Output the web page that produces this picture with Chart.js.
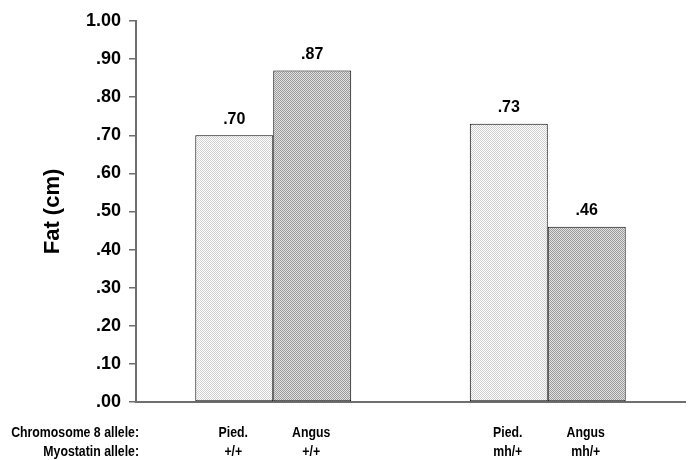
<!DOCTYPE html>
<html>
<head>
<meta charset="utf-8">
<script src="https://cdn.jsdelivr.net/npm/chart.js@4.4.1/dist/chart.umd.min.js"></script>
<style>
    body { margin: 0; background: #fff; }
</style>
</head>
<body>
<canvas id="fatChart" width="689" height="460"></canvas>
<script>
// data
const myostatinAlleles = ['+/+', 'mh/+'];
const chromosomeAlleles = ['Pied.', 'Angus'];
const piedFat = [0.70, 0.73];
const angusFat = [0.87, 0.46];
const rowTitles = ['Chromosome 8 allele:', 'Myostatin allele:'];

const mainFont = "'Liberation Sans', Arial, sans-serif";

// stipple fills like the scanned figure
function makeStipple(dark, light) {
    const c = document.createElement('canvas');
    c.width = 2;
    c.height = 2;
    const g = c.getContext('2d');
    g.fillStyle = light;
    g.fillRect(0, 0, 2, 2);
    g.fillStyle = dark;
    g.fillRect(0, 0, 1, 1);
    g.fillRect(1, 1, 1, 1);
    return g.createPattern(c, 'repeat');
}

const piedFill = makeStipple('#d2d2d2', '#ffffff');
const angusFill = makeStipple('#9a9a9a', '#e2e2e2');

function tickText(v) {
    const s = v.toFixed(2);
    return v < 1 ? s.replace(/^0/, '') : s;
}

// condensed bold text, the figure uses a narrow face
function narrowText(ctx, text, x, y) {
    ctx.save();
    ctx.translate(x, y);
    ctx.scale(0.82, 1);
    ctx.fillText(text, 0, 0);
    ctx.restore();
}

// value on top of each bar, two label rows under the axis
const barLabels = {
    id: 'barLabels',
    afterDatasetsDraw(chart) {
        const ctx = chart.ctx;
        const area = chart.chartArea;
        ctx.save();
        ctx.fillStyle = '#000';
        ctx.textAlign = 'center';
        chart.data.datasets.forEach((ds, i) => {
            const meta = chart.getDatasetMeta(i);
            meta.data.forEach((bar, j) => {
                ctx.font = 'bold 16px ' + mainFont;
                ctx.textBaseline = 'bottom';
                ctx.fillText(tickText(ds.data[j]), bar.x, bar.y - 8);
                ctx.font = 'bold 15px ' + mainFont;
                ctx.textBaseline = 'middle';
                narrowText(ctx, ds.label, bar.x - 1, area.bottom + 31);
                narrowText(ctx, chart.data.labels[j], bar.x - 1, area.bottom + 50);
            });
        });
        ctx.font = 'bold 15px ' + mainFont;
        ctx.textAlign = 'right';
        ctx.textBaseline = 'middle';
        narrowText(ctx, rowTitles[0], area.left + 3, area.bottom + 31);
        narrowText(ctx, rowTitles[1], area.left + 3, area.bottom + 50);
        ctx.restore();
    }
};

const data = {
    labels: myostatinAlleles,
    datasets: [
        {
            label: chromosomeAlleles[0],
            data: piedFat,
            backgroundColor: piedFill,
            borderColor: '#000',
            borderWidth: 1,
            borderSkipped: false
        },
        {
            label: chromosomeAlleles[1],
            data: angusFat,
            backgroundColor: angusFill,
            borderColor: '#000',
            borderWidth: 1,
            borderSkipped: false
        }
    ]
};

const config = {
    type: 'bar',
    data: data,
    options: {
        responsive: false,
        animation: false,
        categoryPercentage: 0.568,
        barPercentage: 1,
        layout: { padding: { top: 21, right: 4, left: 0, bottom: 0 } },
        plugins: {
            legend: { display: false },
            tooltip: { enabled: false }
        },
        scales: {
            x: {
                grid: { display: false },
                ticks: { display: false },
                border: { display: true, color: '#6e6e6e', width: 2 },
                afterFit: (scale) => { scale.height = 58; }
            },
            y: {
                min: 0,
                max: 1,
                ticks: {
                    stepSize: 0.1,
                    padding: 8,
                    color: '#000',
                    font: { family: mainFont, size: 18, weight: 'bold' },
                    callback: (v) => tickText(v)
                },
                grid: {
                    drawOnChartArea: false,
                    drawTicks: true,
                    tickLength: 7,
                    color: '#6e6e6e',
                    lineWidth: 1.5
                },
                border: { display: true, color: '#6e6e6e', width: 2 },
                title: {
                    display: true,
                    text: 'Fat (cm)',
                    color: '#000',
                    font: { family: mainFont, size: 22, weight: 'bold' },
                    padding: { top: 40, bottom: 0 }
                },
                afterFit: (scale) => { scale.width = 136; }
            }
        }
    },
    plugins: [barLabels]
};

const fatChart = new Chart(document.getElementById('fatChart'), config);
</script>
</body>
</html>
